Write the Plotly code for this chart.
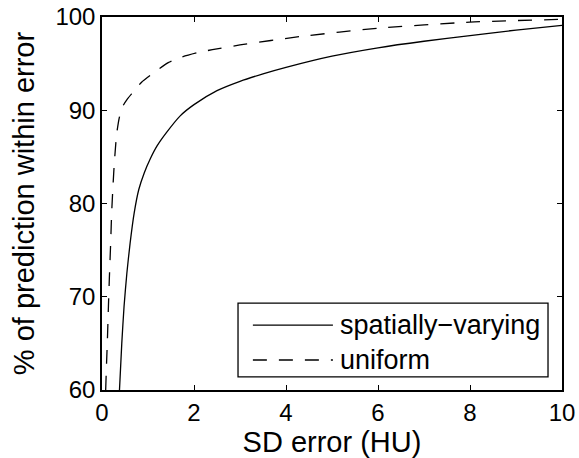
import plotly.graph_objects as go

# SD error (HU) vs. cumulative percentage of predictions within that error
spatial_x = [0.38, 0.43, 0.48, 0.54, 0.61, 0.70, 0.80, 0.92, 1.05, 1.20, 1.40, 1.70,
             2.00, 2.50, 3.00, 3.50, 4.00, 5.00, 6.00, 7.00, 8.00, 9.00, 10.00]
spatial_y = [60.0, 65.0, 69.0, 72.5, 75.7, 79.0, 81.5, 83.3, 84.8, 86.2, 87.6, 89.4,
             90.6, 92.1, 93.1, 93.9, 94.6, 95.8, 96.7, 97.4, 98.0, 98.6, 99.1]

uniform_x = [0.08, 0.10, 0.115, 0.14, 0.16, 0.19, 0.21, 0.24, 0.27, 0.32, 0.38, 0.46,
             0.55, 0.65, 0.86, 1.12, 1.44, 1.73, 2.10, 2.40, 3.00, 4.30, 6.00, 8.00, 10.00]
uniform_y = [60.0, 63.0, 65.0, 69.0, 72.0, 76.0, 79.0, 82.0, 84.5, 87.5, 89.3, 90.5,
             91.2, 91.8, 93.0, 94.0, 95.1, 95.7, 96.2, 96.5, 97.0, 97.9, 98.8, 99.45, 99.75]

x_ticks = [0, 2, 4, 6, 8, 10]
y_ticks = [60, 70, 80, 90, 100]
series_names = ["spatially\u2212varying", "uniform"]

FONT = "Liberation Sans, Arial, Helvetica, sans-serif"
DASH = "14px,12px"
TICK_SIZE = 24
TITLE_SIZE = 29
LEGEND_SIZE = 27

fig = go.Figure()
fig.add_trace(go.Scatter(x=spatial_x, y=spatial_y, mode="lines", name=series_names[0],
                         line=dict(color="black", width=1.3, shape="spline", smoothing=0.6)))
fig.add_trace(go.Scatter(x=uniform_x, y=uniform_y, mode="lines", name=series_names[1],
                         line=dict(color="black", width=1.3, dash=DASH, shape="spline", smoothing=0.6)))

axis_common = dict(
    showline=True, linecolor="black", linewidth=1.5, mirror="ticks",
    ticks="inside", ticklen=5, tickwidth=1, tickcolor="black",
    showgrid=False, zeroline=False, automargin=False,
    tickfont=dict(family=FONT, size=TICK_SIZE, color="black"),
)

fig.update_xaxes(range=[0, 10], tickvals=x_ticks, ticktext=[str(v) for v in x_ticks],
                 title=dict(text="SD error (HU)", font=dict(family=FONT, size=TITLE_SIZE, color="black"),
                            standoff=2),
                 **axis_common)
fig.update_yaxes(range=[60, 100], tickvals=y_ticks, ticktext=[str(v) for v in y_ticks],
                 title=dict(text="% of prediction within error",
                            font=dict(family=FONT, size=TITLE_SIZE, color="black"), standoff=12),
                 **axis_common)

# Legend box drawn in paper space with line samples and labels
lx0, lx1, ly0, ly1 = 0.2957, 0.9696, 0.035, 0.233
rows = [(0.174, "solid"), (0.0804, DASH)]
shapes = [dict(type="rect", xref="paper", yref="paper", x0=lx0, x1=lx1, y0=ly0, y1=ly1,
               line=dict(color="black", width=1.3), fillcolor="white", layer="above")]
annotations = []
for (ry, dash), name in zip(rows, series_names):
    shapes.append(dict(type="line", xref="paper", yref="paper", x0=0.328, x1=0.502,
                       y0=ry, y1=ry, line=dict(color="black", width=1.3, dash=dash),
                       layer="above"))
    annotations.append(dict(xref="paper", yref="paper", x=0.513, y=ry, text=name,
                            showarrow=False, xanchor="left", yanchor="middle",
                            font=dict(family=FONT, size=LEGEND_SIZE, color="black")))

fig.update_layout(
    width=579, height=458,
    margin=dict(l=102, r=17, t=17, b=68),
    paper_bgcolor="white", plot_bgcolor="white",
    showlegend=False,
    shapes=shapes, annotations=annotations,
)

fig.write_html("out.html")
